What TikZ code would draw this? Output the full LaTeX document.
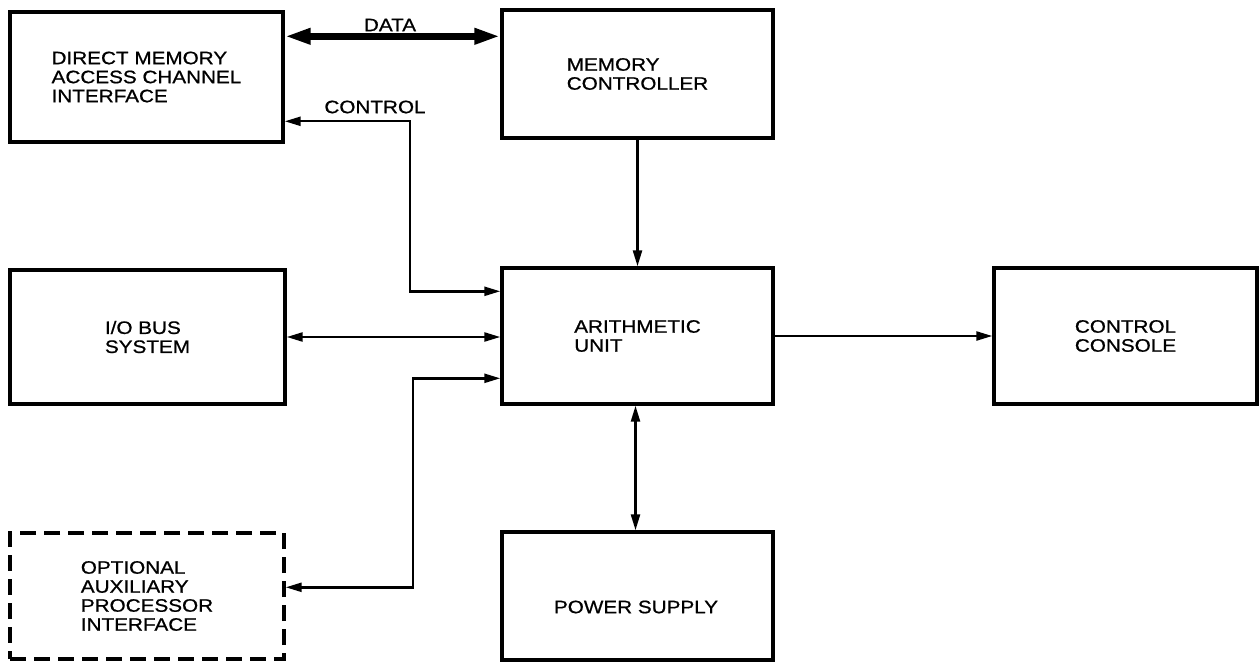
\documentclass[tikz,border=0pt]{standalone}
\usepackage{fontspec}
\setmainfont[FakeStretch=1.15,FakeBold=0.8]{Liberation Sans}
\usetikzlibrary{arrows.meta,calc}
\begin{document}
\begin{tikzpicture}[x=1pt,y=-1pt,
  blk/.style={draw,line width=3.4pt,rectangle,align=left,inner sep=0pt,
    font=\fontsize{18}{19}\selectfont},
  dashblk/.style={blk,dash pattern=on 16pt off 8pt},
  lbl/.style={font=\fontsize{18}{19}\selectfont,inner sep=0pt},
  arr/.style={line width=2.4pt,-{Triangle[length=16pt,width=9pt]}},
  dbl/.style={line width=2.4pt,{Triangle[length=16pt,width=9pt]}-{Triangle[length=16pt,width=9pt]}},
  bigbus/.style={line width=7pt,{Triangle[length=26pt,width=15pt]}-{Triangle[length=26pt,width=15pt]}}]
\useasboundingbox (0,0) rectangle (1260,663);
\node[blk,minimum width=273pt,minimum height=130pt] (dma) at (146.5,77)
  {DIRECT MEMORY\\ACCESS CHANNEL\\INTERFACE};
\node[blk,minimum width=271pt,minimum height=128pt] (mc) at (637.5,74)
  {MEMORY\\CONTROLLER};
\node[blk,minimum width=275pt,minimum height=134pt] (io) at (147.5,337)
  {I/O BUS\\SYSTEM};
\node[blk,minimum width=271pt,minimum height=136pt] (au) at (637.5,336)
  {ARITHMETIC\\UNIT};
\node[blk,minimum width=263pt,minimum height=136pt] (cc) at (1125.5,336)
  {CONTROL\\CONSOLE};
\node[dashblk,minimum width=274pt,minimum height=126pt] (opt) at (147,596)
  {OPTIONAL\\AUXILIARY\\PROCESSOR\\INTERFACE};
\node[blk,minimum width=271pt,minimum height=128pt] (ps) at (637.5,596) {};
\node[lbl] (pst) at (636,607) {POWER SUPPLY};
% labels
\node[lbl] (datal) at (390,25) {DATA};
\node[lbl] (ctrll) at (375,107) {CONTROL};
% connectors
\coordinate (bus) at (410,0);
\coordinate (bustwo) at (413,0);
\draw[bigbus] ([yshift=-26pt]dma.north east) -- ([yshift=-28pt]mc.north west);
\coordinate (dmone) at ([yshift=-111pt]dma.north east);
\coordinate (auone) at ([yshift=-25pt]au.north west);
\draw[dbl] (dmone) -- (dmone -| bus) -- (bus |- auone) -- (auone);
\draw[dbl] (io.east) -- (io.east -| au.west);
\coordinate (authree) at ([yshift=-112pt]au.north west);
\coordinate (opone) at ([yshift=-56pt]opt.north east);
\draw[dbl] (authree) -- (authree -| bustwo) -- (bustwo |- opone) -- (opone);
\draw[arr] (au.east) -- (cc.west);
\draw[arr] (mc.south) -- (au.north);
\draw[dbl] ([xshift=-2pt]au.south) -- ([xshift=-2pt]ps.north);
\end{tikzpicture}
\end{document}
